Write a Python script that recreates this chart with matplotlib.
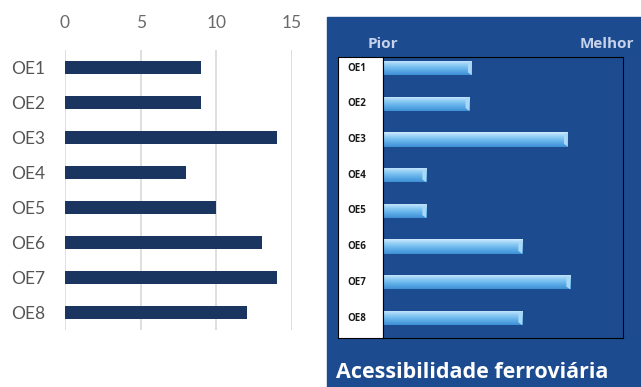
import numpy as np
import matplotlib
matplotlib.use('Agg')
import matplotlib.pyplot as plt
from matplotlib.patches import Rectangle

# data
categories = ['OE1', 'OE2', 'OE3', 'OE4', 'OE5', 'OE6', 'OE7', 'OE8']
left_values = [9, 9, 14, 8, 10, 13, 14, 12]
left_ticks = [0, 5, 10, 15]
right_values = [37, 36, 77, 18, 18, 58, 78, 58]
right_title = 'Acessibilidade ferroviária'
worst_label = 'Pior'
best_label = 'Melhor'

W, H = 641, 387
fig = plt.figure(figsize=(W / 100, H / 100), dpi=100)
fig.patch.set_facecolor('white')


def box(x0, y0, x1, y1):
    # pixel box (top-left origin) -> figure fraction rect
    return [x0 / W, 1 - y1 / H, (x1 - x0) / W, (y1 - y0) / H]


# ---- left chart
ax = fig.add_axes(box(65, 50, 292, 330))
y = np.arange(len(categories))
ax.barh(y, left_values, height=0.38, color='#1a3560', zorder=3)
ax.set_xlim(0, 15)
ax.set_ylim(len(categories) - 0.5, -0.5)
ax.set_xticks(left_ticks)
ax.set_yticks(y)
ax.set_yticklabels(categories, family=['Lato', 'DejaVu Sans'])
ax.xaxis.tick_top()
ax.tick_params(axis='x', length=0, pad=14, labelsize=12.5, labelcolor='#6a6a6a')
ax.tick_params(axis='y', length=0, pad=14.5, labelsize=12.5, labelcolor='#555555')
for lab in ax.get_xticklabels():
    lab.set_family(['Lato', 'DejaVu Sans'])
ax.grid(axis='x', color='#d9d9d9', linewidth=1.2, zorder=0)
for s in ax.spines.values():
    s.set_visible(False)

# ---- right panel background
fig.patches.append(Rectangle((327 / W, 0), (W - 327) / W, 1 - 17 / H,
                             transform=fig.transFigure, color='#1d4b8f', zorder=-1))

# rows are not centred in the box: more room at the bottom
ylim_r = (7.56, -0.31)

# label column
lax = fig.add_axes(box(338, 57, 383, 338))
lax.set_facecolor('white')
lax.set_xlim(0, 1)
lax.set_ylim(*ylim_r)
lax.set_xticks([])
lax.set_yticks([])
for i, c in enumerate(categories):
    lax.text(0.2, i, c, ha='left', va='center', fontsize=7, fontweight='bold',
             color='#1a1a1a', family=['Open Sans', 'DejaVu Sans'])
for s in lax.spines.values():
    s.set_color('black')
    s.set_linewidth(0.8)

# bars
rax = fig.add_axes(box(383, 57, 623, 338))
rax.set_facecolor('#1d4b8f')
rax.set_xticks([])
rax.set_yticks([])
for s in rax.spines.values():
    s.set_color('black')
    s.set_linewidth(0.8)

grad = np.linspace(0, 1, 64).reshape(-1, 1)
cmap = matplotlib.colors.LinearSegmentedColormap.from_list(
    'bar', ['#cfeafd', '#8ccbf5', '#5eaee9', '#3f8fd6'])
bh = 0.4
bars = rax.barh(y, right_values, height=bh, color='none', edgecolor='none', zorder=3)
for i, (b, v) in enumerate(zip(bars, right_values)):
    im = rax.imshow(grad, cmap=cmap, aspect='auto', zorder=2,
                    extent=[0, v, i + bh / 2, i - bh / 2])
    im.set_clip_path(b)
    # bevelled end
    rax.fill([v - 1.6, v, v, v - 1.6], [i - bh / 2 + 0.08, i - bh / 2, i + bh / 2, i + bh / 2 - 0.08],
             color='#a9d8f7', zorder=4, linewidth=0)
rax.set_xlim(0, 100)
rax.set_ylim(*ylim_r)

fig.text(383 / W, 1 - 44 / H, worst_label, ha='center', va='center', fontsize=11,
         fontweight='bold', color='#c6d3ea', family=['Open Sans', 'DejaVu Sans'])
fig.text(634 / W, 1 - 44 / H, best_label, ha='right', va='center', fontsize=11,
         fontweight='bold', color='#c6d3ea', family=['Open Sans', 'DejaVu Sans'])
fig.text(336 / W, 1 - 372 / H, right_title, ha='left', va='center', fontsize=15.5,
         fontweight='bold', color='white', family=['Open Sans', 'DejaVu Sans'])

fig.savefig('out.png', dpi=100)
